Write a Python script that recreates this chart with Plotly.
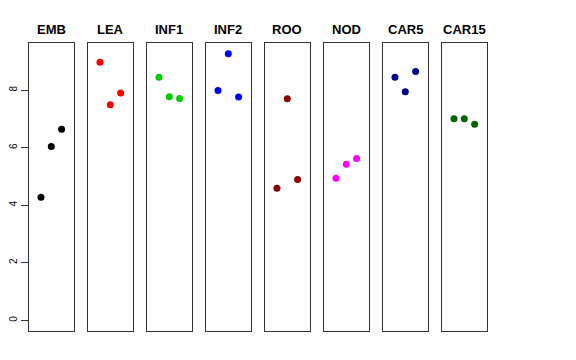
import plotly.graph_objects as go

categories = ["EMB", "LEA", "INF1", "INF2", "ROO", "NOD", "CAR5", "CAR15"]
x_positions = [1, 2, 3]
values = {
    "EMB":   [4.28, 6.04, 6.64],
    "LEA":   [8.97, 7.49, 7.90],
    "INF1":  [8.45, 7.77, 7.71],
    "INF2":  [7.99, 9.27, 7.76],
    "ROO":   [4.59, 7.70, 4.90],
    "NOD":   [4.94, 5.43, 5.63],
    "CAR5":  [8.45, 7.95, 8.65],
    "CAR15": [7.01, 7.01, 6.82],
}
colors = ["#000000", "#FF0000", "#00CD00", "#0000FF", "#8B0000", "#FF00FF", "#00008B", "#006400"]
y_ticks = [0, 2, 4, 6, 8]

# page body has an 8px margin; figure is sized to fill the remaining window
OFF = 8
W, H = 576 - 2 * OFF, 360 - 2 * OFF
left0, pitch, pw = 29.0, 59.0, 44.6
top_px, bot_px = 43.3, 331.0


def px_x(x):
    return (x - OFF) / W


def px_y(y):
    return 1 - (y - OFF) / H


fig = go.Figure()
annotations = []
for i, (cat, col) in enumerate(zip(categories, colors)):
    n = "" if i == 0 else str(i + 1)
    x0 = left0 + i * pitch
    x1 = x0 + pw
    fig.add_trace(go.Scatter(
        x=x_positions, y=values[cat], mode="markers",
        marker=dict(color=col, size=7), xaxis="x" + n, yaxis="y" + n,
        showlegend=False, hoverinfo="skip"))
    fig.layout["xaxis" + n] = dict(
        domain=[px_x(x0), px_x(x1)], range=[-0.16, 4.16], anchor="y" + n,
        showgrid=False, zeroline=False, showticklabels=False, ticks="",
        showline=True, mirror=True, linecolor="#333333", linewidth=1,
        fixedrange=True, automargin=False)
    ydict = dict(
        domain=[px_y(bot_px), px_y(top_px)], range=[-0.37, 9.63], anchor="x" + n,
        showgrid=False, zeroline=False, showline=True, mirror=True,
        linecolor="#333333", linewidth=1, fixedrange=True, automargin=False)
    if i == 0:
        ydict.update(tickvals=y_ticks, ticks="outside", ticklen=7, tickcolor="#333333",
                     tickangle=-90, ticklabelstandoff=0,
                     tickfont=dict(family="Liberation Sans, Arial", size=10, color="#000000"))
    else:
        ydict.update(showticklabels=False, ticks="")
    fig.layout["yaxis" + n] = ydict
    annotations.append(dict(
        text="<b>" + cat + "</b>", x=px_x((x0 + x1) / 2), y=px_y(29.5),
        xref="paper", yref="paper", xanchor="center", yanchor="middle",
        showarrow=False, font=dict(family="Liberation Sans, Arial", size=13, color="#000000")))

fig.update_layout(
    width=W, height=H, margin=dict(l=0, r=0, t=0, b=0, autoexpand=False),
    paper_bgcolor="white", plot_bgcolor="white", annotations=annotations)

fig.write_html("out.html")
